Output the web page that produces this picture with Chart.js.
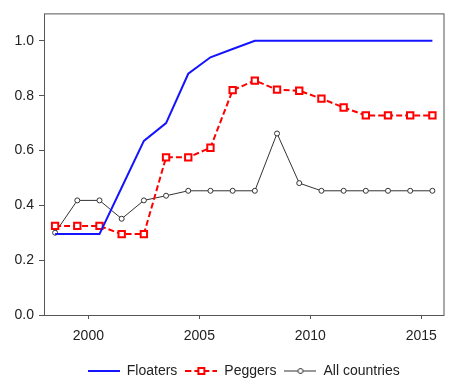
<!DOCTYPE html>
<html>
<head>
<meta charset="utf-8">
<script src="https://cdn.jsdelivr.net/npm/chart.js"></script>
<style>
  html, body { margin: 0; padding: 0; background: #fff; }
  #wrap { width: 450px; height: 383px; }
</style>
</head>
<body>
<div id="wrap"><canvas id="chart"></canvas></div>
<script>
const years = [1998, 1999, 2000, 2001, 2002, 2003, 2004, 2005, 2006, 2007, 2008, 2009, 2010, 2011, 2012, 2013, 2014, 2015];
const floaters = [0.295, 0.295, 0.295, 0.465, 0.635, 0.70, 0.88, 0.94, 0.97, 1.0, 1.0, 1.0, 1.0, 1.0, 1.0, 1.0, 1.0, 1.0];
const peggers = [0.325, 0.325, 0.325, 0.295, 0.295, 0.575, 0.575, 0.61, 0.82, 0.855, 0.822, 0.818, 0.789, 0.757, 0.728, 0.728, 0.728, 0.728];
const allCountries = [0.30, 0.418, 0.418, 0.351, 0.418, 0.435, 0.453, 0.453, 0.453, 0.453, 0.662, 0.481, 0.453, 0.453, 0.453, 0.453, 0.453, 0.453];
const yTicks = [0, 0.2, 0.4, 0.6, 0.8, 1.0];
const xLabelYears = [2000, 2005, 2010, 2015];

// annual values sit in the middle of each year
function toPoints(values) {
  return years.map((yr, i) => ({ x: yr + 0.5, y: values[i] }));
}

function legendIcon(color, lineWidth, dash, marker) {
  const c = document.createElement("canvas");
  c.width = 32;
  c.height = 12;
  const g = c.getContext("2d");
  g.strokeStyle = color;
  g.lineWidth = lineWidth;
  g.setLineDash(dash);
  g.beginPath();
  g.moveTo(0, 6);
  g.lineTo(32, 6);
  g.stroke();
  g.setLineDash([]);
  g.fillStyle = "#fff";
  if (marker === "rect") {
    g.lineWidth = 2;
    g.fillRect(13, 3, 6, 6);
    g.strokeRect(13, 3, 6, 6);
  } else if (marker === "circle") {
    g.lineWidth = 1;
    g.beginPath();
    g.arc(16, 6, 2.5, 0, Math.PI * 2);
    g.fill();
    g.stroke();
  }
  return c;
}

const icons = [
  legendIcon("#1414ff", 2, [], null),
  legendIcon("#ff0000", 2, [6, 3], "rect"),
  legendIcon("#333", 1, [], "circle")
];

const framePlugin = {
  id: "frame",
  afterDraw(chart) {
    const { ctx, chartArea: a } = chart;
    ctx.save();
    ctx.strokeStyle = "#555";
    ctx.lineWidth = 1;
    ctx.strokeRect(a.left + 0.5, a.top + 0.5, a.right - a.left, a.bottom - a.top);
    ctx.restore();
  }
};

new Chart(document.getElementById("chart"), {
  type: "line",
  data: {
    datasets: [
      {
        label: "Floaters",
        data: toPoints(floaters),
        borderColor: "#1414ff",
        borderWidth: 2,
        pointRadius: 0,
        tension: 0
      },
      {
        label: "Peggers",
        data: toPoints(peggers),
        borderColor: "#ff0000",
        borderWidth: 2,
        borderDash: [6, 3],
        pointStyle: "rect",
        pointRadius: 4.5,
        pointBorderWidth: 2,
        pointBackgroundColor: "#fff",
        pointBorderColor: "#ff0000",
        tension: 0
      },
      {
        label: "All countries",
        data: toPoints(allCountries),
        borderColor: "#333",
        borderWidth: 1,
        pointRadius: 2.5,
        pointBorderWidth: 1,
        pointBackgroundColor: "#fff",
        pointBorderColor: "#333",
        tension: 0
      }
    ]
  },
  options: {
    responsive: true,
    maintainAspectRatio: false,
    animation: false,
    layout: { padding: { top: 13, right: 4, left: 0, bottom: -5 } },
    plugins: {
      tooltip: { enabled: false },
      legend: {
        position: "bottom",
        fullSize: false,
        labels: {
          usePointStyle: true,
          pointStyleWidth: 32,
          padding: 8,
          color: "#222",
          font: { family: "'Liberation Sans', Arial, sans-serif", size: 14 },
          generateLabels(chart) {
            return Chart.defaults.plugins.legend.labels.generateLabels(chart).map((item, i) => {
              item.pointStyle = icons[i];
              return item;
            });
          }
        }
      }
    },
    scales: {
      x: {
        type: "linear",
        min: 1998,
        max: 2016,
        afterBuildTicks(scale) {
          const ticks = [];
          for (let v = 1998; v <= 2016; v++) ticks.push({ value: v });
          scale.ticks = ticks;
        },
        afterFit(scale) {
          scale.height = 41;
        },
        border: { display: false },
        grid: { drawOnChartArea: false, drawTicks: true, tickLength: 4, color: "#555" },
        ticks: {
          autoSkip: false,
          maxRotation: 0,
          padding: 9,
          color: "#222",
          font: { family: "'Liberation Sans', Arial, sans-serif", size: 14 },
          callback: v => (xLabelYears.includes(v) ? String(v) : null)
        }
      },
      y: {
        min: 0,
        max: 1.1,
        afterBuildTicks(scale) {
          scale.ticks = yTicks.map(v => ({ value: v }));
        },
        afterFit(scale) {
          scale.width = 44;
        },
        border: { display: false },
        grid: { drawOnChartArea: false, drawTicks: true, tickLength: 5, color: "#555" },
        ticks: {
          padding: 5,
          color: "#222",
          font: { family: "'Liberation Sans', Arial, sans-serif", size: 14 },
          callback: v => v.toFixed(1)
        }
      }
    }
  },
  plugins: [framePlugin]
});
</script>
</body>
</html>
